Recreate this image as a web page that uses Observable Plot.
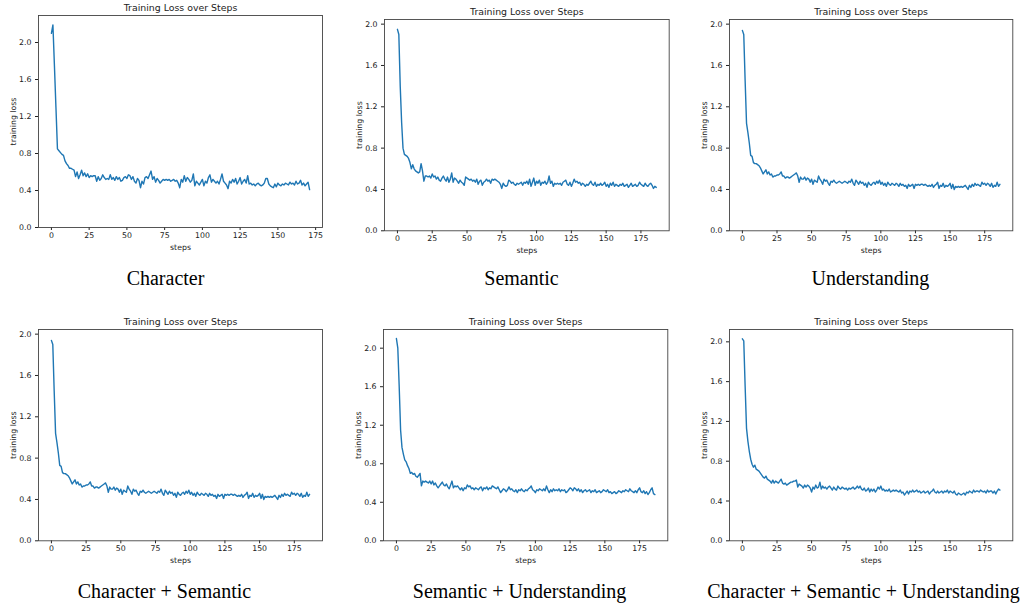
<!DOCTYPE html>
<html>
<head>
<meta charset="utf-8">
<script src="https://cdn.jsdelivr.net/npm/d3@7"></script>
<script src="https://cdn.jsdelivr.net/npm/@observablehq/plot@0.6"></script>
<style>
  html, body { margin: 0; padding: 0; background: #fff; }
  #root { position: relative; width: 1021px; height: 604px; overflow: hidden; background: #fff; }
  .cap { position: absolute; width: 420px; text-align: center; font-family: "Liberation Serif", "Times New Roman", serif; font-size: 20px; line-height: 20px; color: #000; white-space: nowrap; }
</style>
</head>
<body>
<div id="root"></div>
<script>
// ---------- data ----------
const title = "Training Loss over Steps";
const xLabel = "steps";
const yLabel = "training loss";
const xTicks = [0, 25, 50, 75, 100, 125, 150, 175];
const yTicks = [0, 0.4, 0.8, 1.2, 1.6, 2.0];
const captions = ["Character", "Semantic", "Understanding", "Character + Semantic", "Semantic + Understanding", "Character + Semantic + Understanding"];

const character = [
  2.10, 2.19, 1.75, 1.30, 0.85, 0.83, 0.81, 0.79, 0.78, 0.72,
  0.69, 0.67, 0.64, 0.64, 0.63, 0.62, 0.55, 0.60, 0.53, 0.57,
  0.62, 0.56, 0.59, 0.55, 0.58, 0.54, 0.56, 0.55, 0.56, 0.56,
  0.50, 0.55, 0.51, 0.53, 0.57, 0.54, 0.52, 0.53, 0.52, 0.57,
  0.52, 0.54, 0.51, 0.55, 0.52, 0.54, 0.50, 0.51, 0.54, 0.55,
  0.53, 0.57, 0.56, 0.52, 0.55, 0.50, 0.48, 0.53, 0.51, 0.43,
  0.50, 0.47, 0.54, 0.55, 0.53, 0.57, 0.61, 0.52, 0.55, 0.49,
  0.53, 0.51, 0.48, 0.50, 0.52, 0.51, 0.52, 0.51, 0.52, 0.50,
  0.51, 0.52, 0.50, 0.51, 0.48, 0.43, 0.52, 0.49, 0.56, 0.50,
  0.54, 0.52, 0.49, 0.51, 0.58, 0.45, 0.50, 0.48, 0.46, 0.49,
  0.52, 0.45, 0.50, 0.48, 0.54, 0.57, 0.49, 0.52, 0.50, 0.48,
  0.50, 0.47, 0.52, 0.58, 0.50, 0.48, 0.46, 0.42, 0.50, 0.48,
  0.52, 0.49, 0.53, 0.47, 0.50, 0.54, 0.47, 0.50, 0.52, 0.48,
  0.56, 0.47, 0.48, 0.46, 0.47, 0.45, 0.47, 0.48, 0.46, 0.45,
  0.46, 0.48, 0.53, 0.53, 0.47, 0.45, 0.44, 0.43, 0.47, 0.44,
  0.48, 0.46, 0.45, 0.47, 0.46, 0.48, 0.47, 0.46, 0.49, 0.47,
  0.48, 0.46, 0.50, 0.47, 0.48, 0.51, 0.46, 0.48, 0.45, 0.47,
  0.49, 0.41
];

const semantic = [
  1.95, 1.90, 1.40, 1.05, 0.80, 0.74, 0.73, 0.72, 0.70, 0.66,
  0.60, 0.64, 0.60, 0.58, 0.57, 0.56, 0.57, 0.65, 0.58, 0.48,
  0.53, 0.53, 0.52, 0.53, 0.51, 0.55, 0.52, 0.53, 0.50, 0.52,
  0.49, 0.48, 0.51, 0.53, 0.50, 0.48, 0.52, 0.47, 0.50, 0.56,
  0.47, 0.51, 0.50, 0.48, 0.46, 0.49, 0.47, 0.46, 0.44, 0.52,
  0.51, 0.50, 0.49, 0.50, 0.48, 0.49, 0.47, 0.50, 0.45, 0.48,
  0.49, 0.44, 0.47, 0.48, 0.50, 0.48, 0.49, 0.46, 0.50, 0.49,
  0.50, 0.49, 0.48, 0.47, 0.45, 0.41, 0.46, 0.44, 0.43, 0.44,
  0.49, 0.48, 0.46, 0.47, 0.45, 0.44, 0.46, 0.45, 0.46, 0.47,
  0.44, 0.47, 0.46, 0.48, 0.45, 0.50, 0.43, 0.47, 0.51, 0.44,
  0.48, 0.46, 0.49, 0.44, 0.47, 0.46, 0.48, 0.45, 0.47, 0.53,
  0.46, 0.48, 0.43, 0.46, 0.45, 0.46, 0.45, 0.46, 0.44, 0.47,
  0.48, 0.49, 0.45, 0.44, 0.47, 0.43, 0.46, 0.50, 0.47, 0.48,
  0.46, 0.47, 0.44, 0.46, 0.45, 0.43, 0.45, 0.44, 0.46, 0.48,
  0.45, 0.44, 0.47, 0.43, 0.45, 0.44, 0.46, 0.44, 0.45, 0.47,
  0.43, 0.45, 0.42, 0.46, 0.44, 0.47, 0.43, 0.45, 0.44, 0.43,
  0.45, 0.44, 0.46, 0.43, 0.44, 0.45, 0.42, 0.44, 0.46, 0.43,
  0.44, 0.45, 0.43, 0.44, 0.47, 0.45, 0.44, 0.43, 0.46, 0.44,
  0.43, 0.45, 0.46, 0.44, 0.41, 0.43, 0.42
];

const understanding = [
  1.94, 1.90, 1.45, 1.04, 0.95, 0.85, 0.73, 0.72, 0.66, 0.65,
  0.65, 0.64, 0.63, 0.61, 0.58, 0.55, 0.57, 0.59, 0.55, 0.57,
  0.54, 0.55, 0.52, 0.53, 0.53, 0.54, 0.54, 0.55, 0.57, 0.53,
  0.53, 0.51, 0.52, 0.52, 0.51, 0.52, 0.53, 0.54, 0.55, 0.56,
  0.53, 0.47, 0.52, 0.50, 0.50, 0.52, 0.49, 0.51, 0.50, 0.47,
  0.50, 0.45, 0.49, 0.48, 0.47, 0.53, 0.50, 0.48, 0.45, 0.50,
  0.48, 0.49, 0.46, 0.44, 0.48, 0.47, 0.49, 0.47, 0.46, 0.47,
  0.48, 0.47, 0.46, 0.47, 0.48, 0.47, 0.46, 0.48, 0.47, 0.50,
  0.46, 0.44, 0.49, 0.47, 0.45, 0.48, 0.46, 0.47, 0.44, 0.46,
  0.42, 0.47, 0.45, 0.44, 0.46, 0.47, 0.45, 0.48, 0.46, 0.49,
  0.45, 0.47, 0.44, 0.46, 0.43, 0.47, 0.45, 0.44, 0.46, 0.45,
  0.44, 0.46, 0.45, 0.43, 0.46, 0.44, 0.45, 0.43, 0.44, 0.41,
  0.45, 0.43, 0.44, 0.45, 0.41, 0.45, 0.44, 0.45, 0.44, 0.45,
  0.45, 0.44, 0.45, 0.44, 0.43, 0.44, 0.43, 0.45, 0.42, 0.44,
  0.45, 0.47, 0.41, 0.44, 0.43, 0.46, 0.42, 0.44, 0.43, 0.44,
  0.46, 0.41, 0.45, 0.40, 0.43, 0.42, 0.43, 0.42, 0.43, 0.42,
  0.43, 0.44, 0.42, 0.40, 0.44, 0.42, 0.45, 0.43, 0.46, 0.44,
  0.45, 0.44, 0.43, 0.47, 0.45, 0.46, 0.44, 0.46, 0.45, 0.43,
  0.46, 0.42, 0.44, 0.43, 0.47, 0.43, 0.45
];

const characterSemantic = [
  1.94, 1.90, 1.45, 1.04, 0.95, 0.85, 0.73, 0.72, 0.66, 0.65,
  0.65, 0.64, 0.63, 0.61, 0.58, 0.55, 0.57, 0.59, 0.55, 0.57,
  0.54, 0.55, 0.52, 0.53, 0.53, 0.54, 0.54, 0.55, 0.57, 0.53,
  0.53, 0.51, 0.52, 0.52, 0.51, 0.52, 0.53, 0.54, 0.55, 0.56,
  0.53, 0.47, 0.52, 0.50, 0.50, 0.52, 0.49, 0.51, 0.50, 0.47,
  0.50, 0.45, 0.49, 0.48, 0.47, 0.53, 0.50, 0.48, 0.45, 0.50,
  0.48, 0.49, 0.46, 0.44, 0.48, 0.47, 0.49, 0.47, 0.46, 0.47,
  0.48, 0.47, 0.46, 0.47, 0.48, 0.47, 0.46, 0.48, 0.47, 0.50,
  0.46, 0.44, 0.49, 0.47, 0.45, 0.48, 0.46, 0.47, 0.44, 0.46,
  0.42, 0.47, 0.45, 0.44, 0.46, 0.47, 0.45, 0.48, 0.46, 0.49,
  0.45, 0.47, 0.44, 0.46, 0.43, 0.47, 0.45, 0.44, 0.46, 0.45,
  0.44, 0.46, 0.45, 0.43, 0.46, 0.44, 0.45, 0.43, 0.44, 0.41,
  0.45, 0.43, 0.44, 0.45, 0.41, 0.45, 0.44, 0.45, 0.44, 0.45,
  0.45, 0.44, 0.45, 0.44, 0.43, 0.44, 0.43, 0.45, 0.42, 0.44,
  0.45, 0.47, 0.41, 0.44, 0.43, 0.46, 0.42, 0.44, 0.43, 0.44,
  0.46, 0.41, 0.45, 0.40, 0.43, 0.42, 0.43, 0.42, 0.43, 0.42,
  0.43, 0.44, 0.42, 0.40, 0.44, 0.42, 0.45, 0.43, 0.46, 0.44,
  0.45, 0.44, 0.43, 0.47, 0.45, 0.46, 0.44, 0.46, 0.45, 0.43,
  0.46, 0.42, 0.44, 0.43, 0.47, 0.43, 0.45
];

const semanticUnderstanding = [
  2.10, 2.00, 1.60, 1.15, 0.97, 0.90, 0.84, 0.82, 0.78, 0.75,
  0.70, 0.71, 0.69, 0.70, 0.67, 0.66, 0.68, 0.70, 0.57, 0.62,
  0.61, 0.62, 0.61, 0.60, 0.62, 0.59, 0.62, 0.58, 0.60, 0.57,
  0.55, 0.57, 0.59, 0.61, 0.58, 0.57, 0.59, 0.56, 0.54, 0.58,
  0.62, 0.55, 0.57, 0.56, 0.57, 0.55, 0.53, 0.55, 0.52, 0.55,
  0.54, 0.58, 0.56, 0.57, 0.54, 0.55, 0.53, 0.55, 0.54, 0.53,
  0.55, 0.56, 0.52, 0.55, 0.54, 0.56, 0.53, 0.55, 0.54, 0.57,
  0.56, 0.55, 0.54, 0.56, 0.53, 0.50, 0.52, 0.54, 0.53, 0.51,
  0.53, 0.56, 0.53, 0.54, 0.52, 0.51, 0.53, 0.50, 0.53, 0.52,
  0.54, 0.52, 0.51, 0.53, 0.52, 0.54, 0.55, 0.57, 0.53, 0.52,
  0.50, 0.53, 0.52, 0.54, 0.53, 0.52, 0.54, 0.52, 0.57, 0.53,
  0.50, 0.53, 0.51, 0.54, 0.52, 0.53, 0.52, 0.54, 0.51, 0.53,
  0.52, 0.53, 0.50, 0.51, 0.53, 0.55, 0.54, 0.52, 0.55, 0.54,
  0.52, 0.54, 0.51, 0.53, 0.50, 0.52, 0.53, 0.51, 0.52, 0.53,
  0.50, 0.52, 0.51, 0.53, 0.50, 0.51, 0.52, 0.50, 0.51, 0.53,
  0.52, 0.51, 0.53, 0.50, 0.51, 0.49, 0.50, 0.51, 0.49, 0.50,
  0.52, 0.51, 0.50, 0.52, 0.51, 0.53, 0.52, 0.51, 0.54, 0.52,
  0.51, 0.50, 0.52, 0.50, 0.53, 0.55, 0.51, 0.50, 0.52, 0.49,
  0.51, 0.48, 0.50, 0.53, 0.55, 0.49, 0.48
];

const characterSemanticUnderstanding = [
  2.03, 2.01, 1.55, 1.13, 1.00, 0.90, 0.82, 0.77, 0.74, 0.76,
  0.72, 0.71, 0.70, 0.68, 0.66, 0.64, 0.63, 0.65, 0.62, 0.61,
  0.60, 0.58, 0.61, 0.58, 0.60, 0.59, 0.58, 0.60, 0.62, 0.58,
  0.57, 0.58, 0.56, 0.57, 0.58, 0.59, 0.59, 0.60, 0.60, 0.61,
  0.54, 0.57, 0.56, 0.55, 0.53, 0.56, 0.54, 0.56, 0.55, 0.53,
  0.49, 0.54, 0.52, 0.56, 0.53, 0.54, 0.59, 0.52, 0.55, 0.53,
  0.54, 0.52, 0.54, 0.55, 0.53, 0.51, 0.54, 0.52, 0.51, 0.55,
  0.53, 0.52, 0.54, 0.53, 0.52, 0.53, 0.51, 0.53, 0.52, 0.53,
  0.54, 0.52, 0.53, 0.55, 0.53, 0.55, 0.52, 0.51, 0.53, 0.50,
  0.51, 0.53, 0.49, 0.52, 0.50, 0.52, 0.49, 0.51, 0.54, 0.52,
  0.55, 0.51, 0.52, 0.50, 0.51, 0.50, 0.52, 0.49, 0.50, 0.51,
  0.50, 0.51, 0.50, 0.49, 0.51, 0.48, 0.49, 0.46, 0.48, 0.50,
  0.47, 0.50, 0.49, 0.51, 0.49, 0.50, 0.51, 0.49, 0.50, 0.48,
  0.49, 0.50, 0.48, 0.49, 0.50, 0.47, 0.49, 0.50, 0.52, 0.49,
  0.48, 0.50, 0.48, 0.49, 0.50, 0.48, 0.50, 0.49, 0.51, 0.48,
  0.50, 0.49, 0.48, 0.50, 0.47, 0.46, 0.48, 0.47, 0.46, 0.47,
  0.48, 0.46, 0.49, 0.48, 0.50, 0.49, 0.48, 0.51, 0.49, 0.50,
  0.50, 0.49, 0.51, 0.50, 0.49, 0.50, 0.48, 0.51, 0.49, 0.50,
  0.50, 0.48, 0.50, 0.47, 0.50, 0.52, 0.51
];

// ---------- layout (frame box in page pixels, caption centre/baseline) ----------
const layout = [
  { series: character,                      L: 38.3, T: 14.7, R: 322.3,  B: 226.7, yMax: 2.292, cx: 165.5, cb: 285 },
  { series: semantic,                       L: 384.3, T: 19,  R: 669,    B: 230.3, yMax: 2.045, cx: 521.5, cb: 285 },
  { series: understanding,                  L: 729,  T: 19,   R: 1012.3, B: 230.3, yMax: 2.045, cx: 870.5, cb: 285 },
  { series: characterSemantic,              L: 38.3, T: 329,  R: 322.3,  B: 540.3, yMax: 2.045, cx: 164.5, cb: 598 },
  { series: semanticUnderstanding,          L: 383,  T: 329,  R: 667.3,  B: 540.3, yMax: 2.194, cx: 519.5, cb: 598 },
  { series: characterSemanticUnderstanding, L: 729,  T: 329,  R: 1012.3, B: 540.3, yMax: 2.124, cx: 863.5, cb: 598 }
];

const root = document.getElementById("root");
const ml = 36, mr = 8, mt = 18, mb = 30;

layout.forEach((p, k) => {
  const rows = p.series.map((v, i) => ({ step: i, loss: v }));
  const n = p.series.length - 1;
  const w = p.R - p.L + ml + mr;
  const h = p.B - p.T + mt + mb;
  const svg = Plot.plot({
    width: w,
    height: h,
    marginLeft: ml, marginRight: mr, marginTop: mt, marginBottom: mb,
    style: { fontFamily: "DejaVu Sans", fontSize: "7.8px", color: "#222", background: "transparent", overflow: "visible", maxWidth: "none" },
    x: { domain: [-0.05 * n, 1.05 * n], ticks: xTicks, tickSize: 3, tickPadding: 2, label: null },
    y: { domain: [0, p.yMax], ticks: yTicks, tickFormat: d3.format(".1f"), tickSize: 3, tickPadding: 4, label: null },
    marks: [
      Plot.lineY(rows, { x: "step", y: "loss", stroke: "#1f77b4", strokeWidth: 1.4 }),
      Plot.frame({ stroke: "#444", strokeWidth: 0.9 }),
      Plot.text([title], { text: d => d, frameAnchor: "top", dy: -8, lineAnchor: "middle", textAnchor: "middle", fontSize: 9.4 }),
      Plot.text([yLabel], { text: d => d, frameAnchor: "left", dx: -25, rotate: -90, lineAnchor: "middle", textAnchor: "middle" }),
      Plot.text([xLabel], { text: d => d, frameAnchor: "bottom", dy: 20, lineAnchor: "middle", textAnchor: "middle" })
    ]
  });
  svg.style.position = "absolute";
  svg.style.left = (p.L - ml) + "px";
  svg.style.top = (p.T - mt) + "px";
  root.appendChild(svg);

  const cap = document.createElement("div");
  cap.className = "cap";
  cap.textContent = captions[k];
  cap.style.left = (p.cx - 210) + "px";
  cap.style.top = (p.cb - 16.8) + "px";
  root.appendChild(cap);
});
</script>
</body>
</html>
